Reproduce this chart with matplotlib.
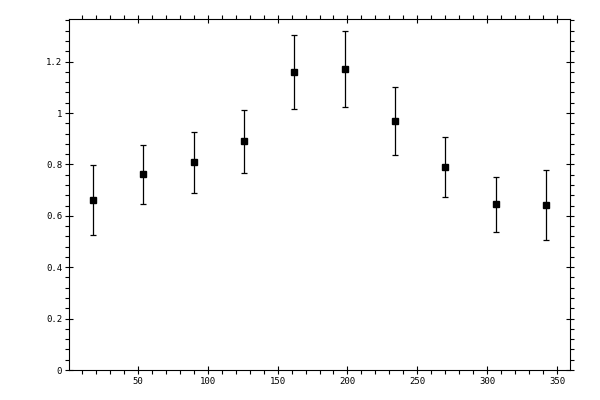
import numpy as np
import matplotlib.pyplot as plt
from matplotlib.ticker import MultipleLocator, FormatStrFormatter

# values
angle = [18, 54, 90, 126, 162, 198, 234, 270, 306, 342]
value = [0.660, 0.762, 0.809, 0.890, 1.160, 1.171, 0.969, 0.789, 0.645, 0.641]
err = [0.136, 0.115, 0.119, 0.122, 0.144, 0.148, 0.132, 0.117, 0.107, 0.137]

fig = plt.figure(figsize=(6, 4), dpi=100)
ax = fig.add_axes([0.115, 0.075, 0.835, 0.877])

ax.errorbar(angle, value, yerr=err, fmt='s', color='black', markersize=5,
            elinewidth=0.9, capsize=2.5, capthick=0.9)

ax.set_xlim(1, 359)
ax.set_ylim(0, 1.365)

ax.xaxis.set_major_locator(MultipleLocator(50))
ax.xaxis.set_minor_locator(MultipleLocator(10))
ax.yaxis.set_major_locator(MultipleLocator(0.2))
ax.yaxis.set_minor_locator(MultipleLocator(0.04))
ax.yaxis.set_major_formatter(FormatStrFormatter('%g'))

ax.tick_params(which='major', direction='inout', length=6, width=0.8,
               top=True, right=True, labelsize=6.5, pad=2)
ax.tick_params(which='minor', direction='out', length=3, width=0.8,
               top=True, right=True)
for lab in ax.get_xticklabels() + ax.get_yticklabels():
    lab.set_family('DejaVu Sans Mono')
for s in ax.spines.values():
    s.set_linewidth(0.8)

fig.savefig('out.png', dpi=100)
